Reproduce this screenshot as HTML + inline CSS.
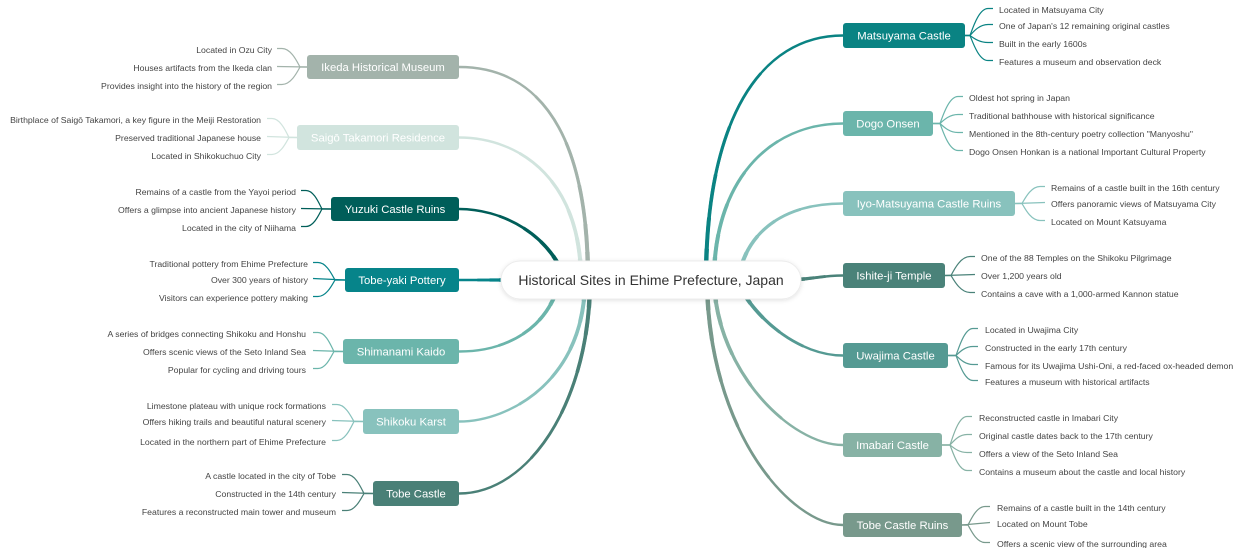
<!DOCTYPE html>
<html><head><meta charset="utf-8"><style>
html,body{margin:0;padding:0;background:#fff;}
svg{display:block;}
text{font-family:"Liberation Sans",Arial,sans-serif;}
.lf{font-size:8.7px;fill:#444;}
.nd{font-size:11.3px;fill:#fff;text-anchor:middle;}
.l{fill:none;stroke-width:1.2;}
.b{fill:none;stroke-linecap:butt;}
.w1{stroke-width:2.4;}
.w2{stroke-width:2.8;stroke-dasharray:0 30 70;}
.w3{stroke-width:3.2;stroke-dasharray:0 50 50;}
.w4{stroke-width:3.6;stroke-dasharray:0 66 34;}
.w5{stroke-width:4.0;stroke-dasharray:0 80 20;}
.w6{stroke-width:4.4;stroke-dasharray:0 90 10;}
</style></head><body>
<svg width="1240" height="548" viewBox="0 0 1240 548" xmlns="http://www.w3.org/2000/svg" xmlns:xlink="http://www.w3.org/1999/xlink">
<defs>
<filter id="sh" x="-10%" y="-40%" width="120%" height="180%"><feDropShadow dx="0" dy="1" stdDeviation="2" flood-color="#000" flood-opacity="0.12"/></filter>
<path id="a1" pathLength="100" d="M459 67 C530 67,588 120,588 280"/>
<path id="a2" pathLength="100" d="M459 137.5 C520 137.5,581 180,581 280"/>
<path id="a3" pathLength="100" d="M459 209 C500 209,548 232,566 280"/>
<path id="a4" pathLength="100" d="M459 280 L520 280"/>
<path id="a5" pathLength="100" d="M459 351.5 C505 351.5,548 330,560 280"/>
<path id="a6" pathLength="100" d="M459 421.5 C510 421.5,585 380,585 280"/>
<path id="a7" pathLength="100" d="M459 493.5 C530 493.5,590 400,590 280"/>
<path id="b1" pathLength="100" d="M843 35.5 C760 35.5,706 120,706 280"/>
<path id="b2" pathLength="100" d="M843 123.5 C770 123.5,714 180,714 280"/>
<path id="b3" pathLength="100" d="M843 203.5 C780 203.5,745 235,738 280"/>
<path id="b4" pathLength="100" d="M843 275.5 C820 275.5,810 280,785 280"/>
<path id="b5" pathLength="100" d="M843 355.5 C800 355.5,755 320,736 280"/>
<path id="b6" pathLength="100" d="M843 445 C790 445,716 370,714 280"/>
<path id="b7" pathLength="100" d="M843 525 C790 525,708 430,707 280"/>
</defs>

<!-- main branches -->
<g class="b">
<g stroke="#a3b3ab"><use href="#a1" xlink:href="#a1" class="w1"/><use href="#a1" xlink:href="#a1" class="w2"/><use href="#a1" xlink:href="#a1" class="w3"/><use href="#a1" xlink:href="#a1" class="w4"/><use href="#a1" xlink:href="#a1" class="w5"/><use href="#a1" xlink:href="#a1" class="w6"/></g>
<g stroke="#d1e4de"><use href="#a2" xlink:href="#a2" class="w1"/><use href="#a2" xlink:href="#a2" class="w2"/><use href="#a2" xlink:href="#a2" class="w3"/><use href="#a2" xlink:href="#a2" class="w4"/><use href="#a2" xlink:href="#a2" class="w5"/><use href="#a2" xlink:href="#a2" class="w6"/></g>
<g stroke="#005e59"><use href="#a3" xlink:href="#a3" class="w1"/><use href="#a3" xlink:href="#a3" class="w2"/><use href="#a3" xlink:href="#a3" class="w3"/><use href="#a3" xlink:href="#a3" class="w4"/><use href="#a3" xlink:href="#a3" class="w5"/><use href="#a3" xlink:href="#a3" class="w6"/></g>
<g stroke="#06848a"><use href="#a4" xlink:href="#a4" class="w1"/><use href="#a4" xlink:href="#a4" class="w2"/><use href="#a4" xlink:href="#a4" class="w3"/><use href="#a4" xlink:href="#a4" class="w4"/><use href="#a4" xlink:href="#a4" class="w5"/><use href="#a4" xlink:href="#a4" class="w6"/></g>
<g stroke="#6bb5ab"><use href="#a5" xlink:href="#a5" class="w1"/><use href="#a5" xlink:href="#a5" class="w2"/><use href="#a5" xlink:href="#a5" class="w3"/><use href="#a5" xlink:href="#a5" class="w4"/><use href="#a5" xlink:href="#a5" class="w5"/><use href="#a5" xlink:href="#a5" class="w6"/></g>
<g stroke="#88c2bd"><use href="#a6" xlink:href="#a6" class="w1"/><use href="#a6" xlink:href="#a6" class="w2"/><use href="#a6" xlink:href="#a6" class="w3"/><use href="#a6" xlink:href="#a6" class="w4"/><use href="#a6" xlink:href="#a6" class="w5"/><use href="#a6" xlink:href="#a6" class="w6"/></g>
<g stroke="#4a8077"><use href="#a7" xlink:href="#a7" class="w1"/><use href="#a7" xlink:href="#a7" class="w2"/><use href="#a7" xlink:href="#a7" class="w3"/><use href="#a7" xlink:href="#a7" class="w4"/><use href="#a7" xlink:href="#a7" class="w5"/><use href="#a7" xlink:href="#a7" class="w6"/></g>

<g stroke="#0a8383"><use href="#b1" xlink:href="#b1" class="w1"/><use href="#b1" xlink:href="#b1" class="w2"/><use href="#b1" xlink:href="#b1" class="w3"/><use href="#b1" xlink:href="#b1" class="w4"/><use href="#b1" xlink:href="#b1" class="w5"/><use href="#b1" xlink:href="#b1" class="w6"/></g>
<g stroke="#6bb5ab"><use href="#b2" xlink:href="#b2" class="w1"/><use href="#b2" xlink:href="#b2" class="w2"/><use href="#b2" xlink:href="#b2" class="w3"/><use href="#b2" xlink:href="#b2" class="w4"/><use href="#b2" xlink:href="#b2" class="w5"/><use href="#b2" xlink:href="#b2" class="w6"/></g>
<g stroke="#88c2bd"><use href="#b3" xlink:href="#b3" class="w1"/><use href="#b3" xlink:href="#b3" class="w2"/><use href="#b3" xlink:href="#b3" class="w3"/><use href="#b3" xlink:href="#b3" class="w4"/><use href="#b3" xlink:href="#b3" class="w5"/><use href="#b3" xlink:href="#b3" class="w6"/></g>
<g stroke="#4a8279"><use href="#b4" xlink:href="#b4" class="w1"/><use href="#b4" xlink:href="#b4" class="w2"/><use href="#b4" xlink:href="#b4" class="w3"/><use href="#b4" xlink:href="#b4" class="w4"/><use href="#b4" xlink:href="#b4" class="w5"/><use href="#b4" xlink:href="#b4" class="w6"/></g>
<g stroke="#559a93"><use href="#b5" xlink:href="#b5" class="w1"/><use href="#b5" xlink:href="#b5" class="w2"/><use href="#b5" xlink:href="#b5" class="w3"/><use href="#b5" xlink:href="#b5" class="w4"/><use href="#b5" xlink:href="#b5" class="w5"/><use href="#b5" xlink:href="#b5" class="w6"/></g>
<g stroke="#87b2a5"><use href="#b6" xlink:href="#b6" class="w1"/><use href="#b6" xlink:href="#b6" class="w2"/><use href="#b6" xlink:href="#b6" class="w3"/><use href="#b6" xlink:href="#b6" class="w4"/><use href="#b6" xlink:href="#b6" class="w5"/><use href="#b6" xlink:href="#b6" class="w6"/></g>
<g stroke="#78998c"><use href="#b7" xlink:href="#b7" class="w1"/><use href="#b7" xlink:href="#b7" class="w2"/><use href="#b7" xlink:href="#b7" class="w3"/><use href="#b7" xlink:href="#b7" class="w4"/><use href="#b7" xlink:href="#b7" class="w5"/><use href="#b7" xlink:href="#b7" class="w6"/></g>
</g>

<!-- leaf connectors left -->
<g class="l" stroke="#a3b3ab">
<path d="M277 48.5 L282 48.5 C291 48.5 297 61.5 300 67 L307 67"/>
<path d="M277 66.5 L307 67"/>
<path d="M277 84.5 L282 84.5 C291 84.5 297 72.5 300 67 L307 67"/>
</g>
<g class="l" stroke="#d1e4de">
<path d="M267 118.5 L272 118.5 C280.5 118.5 286 131.8 289 137.5 L297 137.5"/>
<path d="M267 136.5 L297 137.5"/>
<path d="M267 154.5 L272 154.5 C280.5 154.5 286 142.6 289 137.5 L297 137.5"/>
</g>
<g class="l" stroke="#005e59">
<path d="M301 190.5 L306 190.5 C314 190.5 319 203.5 322 209 L331 209"/>
<path d="M301 208.5 L331 209"/>
<path d="M301 226.5 L306 226.5 C314 226.5 319 214.3 322 209 L331 209"/>
</g>
<g class="l" stroke="#06848a">
<path d="M313 262.5 L318 262.5 C326.5 262.5 332 274.8 335 280 L345 280"/>
<path d="M313 278.5 L345 280"/>
<path d="M313 296.5 L318 296.5 C326.5 296.5 332 285 335 280 L345 280"/>
</g>
<g class="l" stroke="#6bb5ab">
<path d="M313 332.5 L318 332.5 C326 332.5 331 345.8 334 351.5 L343 351.5"/>
<path d="M313 350.5 L343 351.5"/>
<path d="M313 368.5 L318 368.5 C326 368.5 331 356.6 334 351.5 L343 351.5"/>
</g>
<g class="l" stroke="#88c2bd">
<path d="M332 404.5 L337 404.5 C345.5 404.5 351 416.4 354 421.5 L363 421.5"/>
<path d="M332 420.5 L363 421.5"/>
<path d="M332 440.5 L337 440.5 C345.5 440.5 351 427.2 354 421.5 L363 421.5"/>
</g>
<g class="l" stroke="#4a8077">
<path d="M342 474.5 L347 474.5 C355.5 474.5 361 487.8 364 493.5 L373 493.5"/>
<path d="M342 492.5 L373 493.5"/>
<path d="M342 510.5 L347 510.5 C355.5 510.5 361 498.6 364 493.5 L373 493.5"/>
</g>

<!-- leaf connectors right -->
<g class="l" stroke="#0a8383">
<path d="M965 35.5 L970 35.5 C973 27.4 979 8.5 988 8.5 L993 8.5"/>
<path d="M965 35.5 L970 35.5 C973 32.2 979 24.5 988 24.5 L993 24.5"/>
<path d="M965 35.5 L970 35.5 C973 37.6 979 42.5 988 42.5 L993 42.5"/>
<path d="M965 35.5 L970 35.5 C973 43 979 60.5 988 60.5 L993 60.5"/>
</g>
<g class="l" stroke="#6bb5ab">
<path d="M933 123.5 L940 123.5 C943 115.4 949 96.5 958 96.5 L963 96.5"/>
<path d="M933 123.5 L940 123.5 C943 120.8 949 114.5 958 114.5 L963 114.5"/>
<path d="M933 123.5 L940 123.5 C943 126.2 949 132.5 958 132.5 L963 132.5"/>
<path d="M933 123.5 L940 123.5 C943 131.6 949 150.5 958 150.5 L963 150.5"/>
</g>
<g class="l" stroke="#88c2bd">
<path d="M1015 203.5 L1022 203.5 C1025 198.4 1031 186.5 1040 186.5 L1045 186.5"/>
<path d="M1015 203.5 L1045 202.5"/>
<path d="M1015 203.5 L1022 203.5 C1025 208.6 1031 220.5 1040 220.5 L1045 220.5"/>
</g>
<g class="l" stroke="#4a8279">
<path d="M945 275.5 L951 275.5 C954 269.8 960.5 256.5 970 256.5 L975 256.5"/>
<path d="M945 275.5 L975 274.5"/>
<path d="M945 275.5 L951 275.5 C954 280.6 960.5 292.5 970 292.5 L975 292.5"/>
</g>
<g class="l" stroke="#559a93">
<path d="M948 355.5 L956 355.5 C959 347.4 964.5 328.5 973 328.5 L978 328.5"/>
<path d="M948 355.5 L956 355.5 C959 352.8 964.5 346.5 973 346.5 L978 346.5"/>
<path d="M948 355.5 L956 355.5 C959 358.2 964.5 364.5 973 364.5 L978 364.5"/>
<path d="M948 355.5 L956 355.5 C959 363 964.5 380.5 973 380.5 L978 380.5"/>
</g>
<g class="l" stroke="#87b2a5">
<path d="M942 445 L950 445 C953 436.5 958.5 416.5 967 416.5 L972 416.5"/>
<path d="M942 445 L950 445 C953 441.9 958.5 434.5 967 434.5 L972 434.5"/>
<path d="M942 445 L950 445 C953 447.3 958.5 452.5 967 452.5 L972 452.5"/>
<path d="M942 445 L950 445 C953 452.7 958.5 470.5 967 470.5 L972 470.5"/>
</g>
<g class="l" stroke="#78998c">
<path d="M962 525 L968 525 C971 519.5 976.5 506.5 985 506.5 L990 506.5"/>
<path d="M962 525 L990 522.5"/>
<path d="M962 525 L968 525 C971 530.3 976.5 542.5 985 542.5 L990 542.5"/>
</g>

<!-- root -->
<rect x="501" y="261" width="300" height="38" rx="19" ry="19" fill="#fff" stroke="#ececec" stroke-width="1" filter="url(#sh)"/>
<text x="651" y="285" font-size="14" fill="#333" text-anchor="middle">Historical Sites in Ehime Prefecture, Japan</text>

<!-- left nodes -->
<rect x="307" y="55" width="152" height="24" rx="3" fill="#a3b3ab"/>
<text class="nd" x="383" y="71">Ikeda Historical Museum</text>
<rect x="297" y="125" width="162" height="25" rx="3" fill="#d1e4de"/>
<text class="nd" x="378" y="141.5">Saigō Takamori Residence</text>
<rect x="331" y="197" width="128" height="24" rx="3" fill="#005e59"/>
<text class="nd" x="395" y="213">Yuzuki Castle Ruins</text>
<rect x="345" y="268" width="114" height="24" rx="3" fill="#06848a"/>
<text class="nd" x="402" y="284">Tobe-yaki Pottery</text>
<rect x="343" y="339" width="116" height="25" rx="3" fill="#6bb5ab"/>
<text class="nd" x="401" y="355.5">Shimanami Kaido</text>
<rect x="363" y="409" width="96" height="25" rx="3" fill="#88c2bd"/>
<text class="nd" x="411" y="425.5">Shikoku Karst</text>
<rect x="373" y="481" width="86" height="25" rx="3" fill="#4a8077"/>
<text class="nd" x="416" y="497.5">Tobe Castle</text>

<!-- right nodes -->
<rect x="843" y="23" width="122" height="25" rx="3" fill="#0a8383"/>
<text class="nd" x="904" y="39.5">Matsuyama Castle</text>
<rect x="843" y="111" width="90" height="25" rx="3" fill="#6bb5ab"/>
<text class="nd" x="888" y="127.5">Dogo Onsen</text>
<rect x="843" y="191" width="172" height="25" rx="3" fill="#88c2bd"/>
<text class="nd" x="929" y="207.5">Iyo-Matsuyama Castle Ruins</text>
<rect x="843" y="263" width="102" height="25" rx="3" fill="#4a8279"/>
<text class="nd" x="894" y="279.5">Ishite-ji Temple</text>
<rect x="843" y="343" width="105" height="25" rx="3" fill="#559a93"/>
<text class="nd" x="895.5" y="359.5">Uwajima Castle</text>
<rect x="843" y="433" width="99" height="24" rx="3" fill="#87b2a5"/>
<text class="nd" x="892.5" y="449">Imabari Castle</text>
<rect x="843" y="513" width="119" height="24" rx="3" fill="#78998c"/>
<text class="nd" x="902.5" y="529">Tobe Castle Ruins</text>

<!-- left leaves -->
<g class="lf" text-anchor="end">
<text x="272" y="53">Located in Ozu City</text>
<text x="272" y="71">Houses artifacts from the Ikeda clan</text>
<text x="272" y="89">Provides insight into the history of the region</text>
<text x="261" y="123">Birthplace of Saigō Takamori, a key figure in the Meiji Restoration</text>
<text x="261" y="141">Preserved traditional Japanese house</text>
<text x="261" y="159">Located in Shikokuchuo City</text>
<text x="296" y="195">Remains of a castle from the Yayoi period</text>
<text x="296" y="213">Offers a glimpse into ancient Japanese history</text>
<text x="296" y="231">Located in the city of Niihama</text>
<text x="308" y="267">Traditional pottery from Ehime Prefecture</text>
<text x="308" y="283">Over 300 years of history</text>
<text x="308" y="301">Visitors can experience pottery making</text>
<text x="306" y="337">A series of bridges connecting Shikoku and Honshu</text>
<text x="306" y="355">Offers scenic views of the Seto Inland Sea</text>
<text x="306" y="373">Popular for cycling and driving tours</text>
<text x="326" y="409">Limestone plateau with unique rock formations</text>
<text x="326" y="425">Offers hiking trails and beautiful natural scenery</text>
<text x="326" y="445">Located in the northern part of Ehime Prefecture</text>
<text x="336" y="479">A castle located in the city of Tobe</text>
<text x="336" y="497">Constructed in the 14th century</text>
<text x="336" y="515">Features a reconstructed main tower and museum</text>
</g>

<!-- right leaves -->
<g class="lf">
<text x="999" y="13">Located in Matsuyama City</text>
<text x="999" y="29">One of Japan's 12 remaining original castles</text>
<text x="999" y="47">Built in the early 1600s</text>
<text x="999" y="65">Features a museum and observation deck</text>
<text x="969" y="101">Oldest hot spring in Japan</text>
<text x="969" y="119">Traditional bathhouse with historical significance</text>
<text x="969" y="137">Mentioned in the 8th-century poetry collection "Manyoshu"</text>
<text x="969" y="155">Dogo Onsen Honkan is a national Important Cultural Property</text>
<text x="1051" y="191">Remains of a castle built in the 16th century</text>
<text x="1051" y="207">Offers panoramic views of Matsuyama City</text>
<text x="1051" y="225">Located on Mount Katsuyama</text>
<text x="981" y="261">One of the 88 Temples on the Shikoku Pilgrimage</text>
<text x="981" y="279">Over 1,200 years old</text>
<text x="981" y="297">Contains a cave with a 1,000-armed Kannon statue</text>
<text x="985" y="333">Located in Uwajima City</text>
<text x="985" y="351">Constructed in the early 17th century</text>
<text x="985" y="369">Famous for its Uwajima Ushi-Oni, a red-faced ox-headed demon</text>
<text x="985" y="385">Features a museum with historical artifacts</text>
<text x="979" y="421">Reconstructed castle in Imabari City</text>
<text x="979" y="439">Original castle dates back to the 17th century</text>
<text x="979" y="457">Offers a view of the Seto Inland Sea</text>
<text x="979" y="475">Contains a museum about the castle and local history</text>
<text x="997" y="511">Remains of a castle built in the 14th century</text>
<text x="997" y="527">Located on Mount Tobe</text>
<text x="997" y="547">Offers a scenic view of the surrounding area</text>
</g>
</svg>
</body></html>
